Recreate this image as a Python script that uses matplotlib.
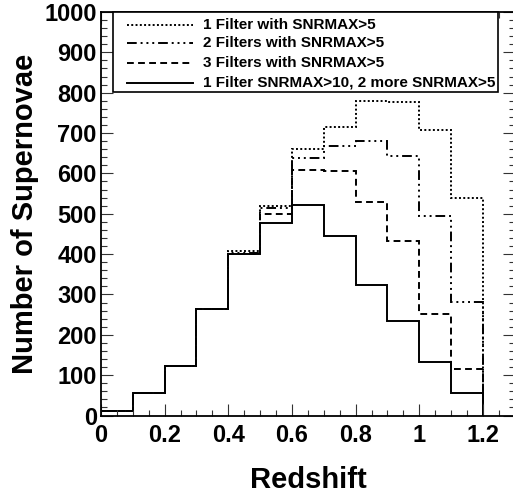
import numpy as np
import matplotlib
matplotlib.use("Agg")
import matplotlib.pyplot as plt
from matplotlib.ticker import MultipleLocator
from matplotlib.patches import Rectangle

plt.rcParams['font.family'] = ['Liberation Sans', 'DejaVu Sans']
plt.rcParams['font.weight'] = 'bold'

#============ Data =====================================
edges = [0.0, 0.1, 0.2, 0.3, 0.4, 0.5, 0.6, 0.7, 0.8, 0.9, 1.0, 1.1, 1.2]
one_filter = [12, 57, 122, 264, 407, 520, 661, 716, 779, 777, 708, 539]
two_filters = [12, 57, 122, 264, 403, 514, 638, 668, 680, 643, 494, 281]
three_filters = [12, 57, 122, 263, 401, 500, 609, 605, 528, 432, 252, 115]
strict_filter = [12, 57, 122, 263, 400, 476, 522, 445, 324, 234, 133, 55]

labels = ['1 Filter with SNRMAX>5',
          '2 Filters with SNRMAX>5',
          '3 Filters with SNRMAX>5',
          '1 Filter SNRMAX>10, 2 more SNRMAX>5']
styles = [(0, (1, 1.2)),
          (0, (5, 2, 1, 2, 1, 2, 1, 2)),
          (0, (3.5, 2.2)),
          '-']

#============ Plot ==============
fig = plt.figure(figsize=(5.13, 4.94), dpi=100)
ax = fig.add_axes([0.1969, 0.1589, 0.8066, 0.8168])

series = [one_filter, two_filters, three_filters, strict_filter]
for vals, ls in zip(series, styles):
    ax.stairs(vals, edges, baseline=0, color='black', linestyle=ls, linewidth=1.4)

ax.set_xlim(0, 1.3)
ax.set_ylim(0, 1000)

ax.xaxis.set_major_locator(MultipleLocator(0.2))
ax.xaxis.set_minor_locator(MultipleLocator(0.05))
ax.yaxis.set_major_locator(MultipleLocator(100))
ax.yaxis.set_minor_locator(MultipleLocator(20))
ax.xaxis.set_major_formatter(plt.FuncFormatter(lambda v, p: '%g' % round(v, 2)))

ax.tick_params(which='both', direction='in', top=True, right=True,
               width=0.8, color='#333333', labelsize=17)
ax.tick_params(which='major', length=8.5)
ax.tick_params(which='minor', length=4.2)
ax.tick_params(axis='x', which='major', pad=6)
ax.tick_params(axis='y', which='major', pad=3)

for s in ax.spines.values():
    s.set_linewidth(1.3)

ax.set_xlabel('Redshift', fontsize=21, fontweight='bold', labelpad=14)
ax.set_ylabel('Number of Supernovae', fontsize=21, fontweight='bold', labelpad=4)

#============ Legend box (ROOT-like TLegend) ==============
box = Rectangle((0.029, 0.8017), 0.93, 0.1983, transform=ax.transAxes,
                facecolor='white', edgecolor='black', linewidth=1.2,
                zorder=10, clip_on=False)
ax.add_patch(box)
row_y = [0.969, 0.923, 0.874, 0.8245]
for yy, lab, ls in zip(row_y, labels, styles):
    ax.plot([0.0628, 0.2223], [yy, yy], transform=ax.transAxes, color='black',
            linestyle=ls, linewidth=1.4, zorder=11, clip_on=False)
    ax.text(0.2465, yy, lab, transform=ax.transAxes, fontsize=11,
            fontweight='bold', va='center', ha='left', zorder=12)

fig.savefig('out.png', dpi=100)
